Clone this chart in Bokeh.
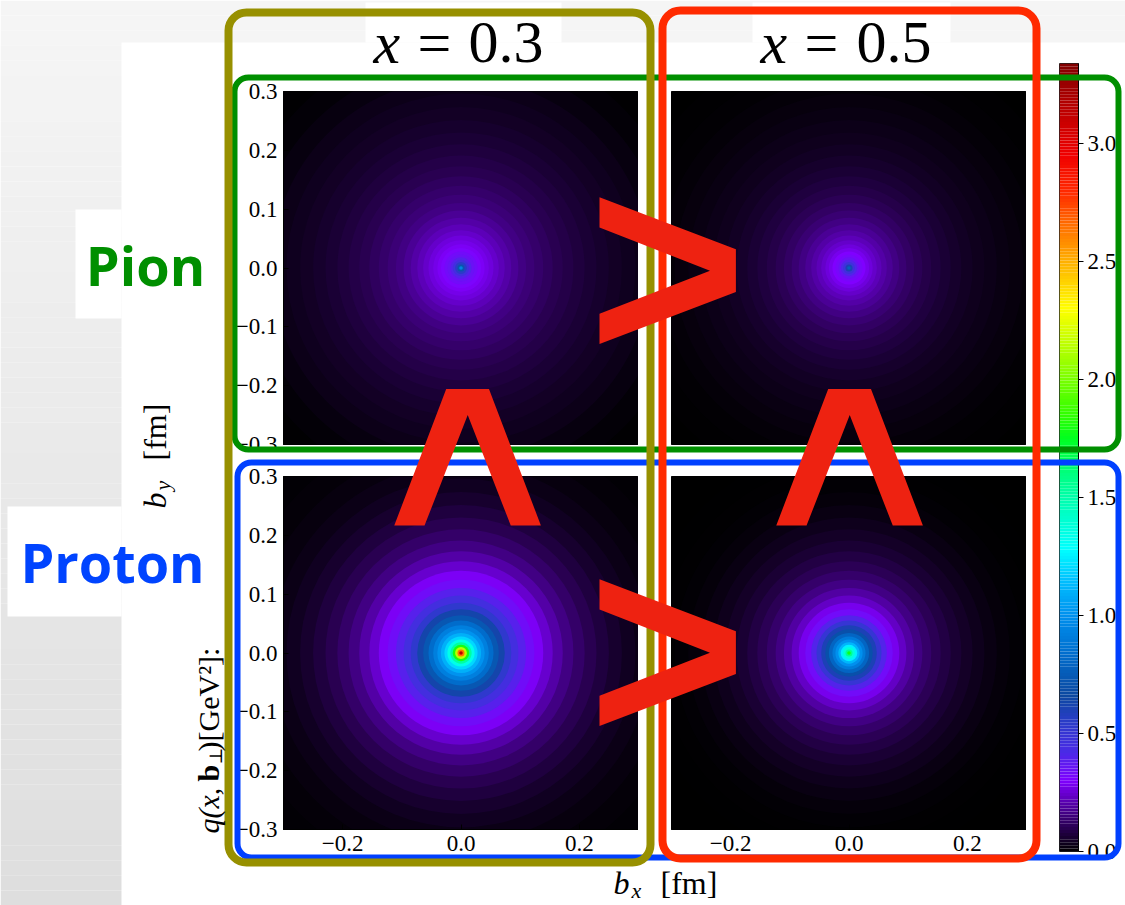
import numpy as np
from bokeh.plotting import figure
from bokeh.models import (Range1d, FixedTicker, CustomJSTickFormatter, BoxAnnotation,
                          ColumnDataSource)
from bokeh.core.properties import value
from bokeh.embed import file_html
from bokeh.resources import INLINE

# ---------------- data ----------------
# radial band edges b_perp [fm] and the density q(x, b_perp) [GeV^2] in each band
RADII = [0.003, 0.006, 0.010, 0.014, 0.018, 0.023, 0.028, 0.034, 0.040, 0.047,
         0.055, 0.064, 0.074, 0.085, 0.097, 0.110, 0.124, 0.139, 0.155, 0.172,
         0.190, 0.209, 0.229, 0.250, 0.272, 0.295, 0.320, 0.350, 0.385, 0.425]
PION_X03 = [0.95, 0.72, 0.55, 0.45, 0.39, 0.35, 0.33, 0.31, 0.29, 0.275,
            0.26, 0.24, 0.22, 0.20, 0.18, 0.16, 0.145, 0.13, 0.115, 0.10,
            0.088, 0.076, 0.065, 0.055, 0.046, 0.038, 0.030, 0.018, 0.008, 0.003]
PION_X05 = [0.78, 0.60, 0.47, 0.40, 0.35, 0.32, 0.30, 0.28, 0.26, 0.24,
            0.22, 0.20, 0.18, 0.16, 0.14, 0.122, 0.105, 0.09, 0.077, 0.065,
            0.054, 0.044, 0.036, 0.029, 0.022, 0.016, 0.010, 0.005, 0.002, 0.0]
PROTON_X03 = [3.15, 2.65, 2.15, 1.80, 1.52, 1.34, 1.20, 1.10, 1.01, 0.92,
              0.83, 0.73, 0.63, 0.53, 0.45, 0.39, 0.335, 0.29, 0.245, 0.20,
              0.16, 0.128, 0.10, 0.077, 0.057, 0.040, 0.027, 0.017, 0.010, 0.006]
PROTON_X05 = [1.78, 1.55, 1.38, 1.25, 1.12, 1.00, 0.90, 0.80, 0.70, 0.60,
              0.50, 0.40, 0.33, 0.28, 0.235, 0.195, 0.16, 0.13, 0.105, 0.083,
              0.064, 0.048, 0.034, 0.022, 0.012, 0.006, 0.003, 0.001, 0.0, 0.0]

X_VALUES = ["0.3", "0.5"]
HADRONS = ["Pion", "Proton"]
Y_TICKS = [-0.3, -0.2, -0.1, 0.0, 0.1, 0.2, 0.3]
X_TICKS = [-0.2, 0.0, 0.2]
CBAR_TICKS = [0.0, 0.5, 1.0, 1.5, 2.0, 2.5, 3.0]
CBAR_RANGE = [0.0, 3.34]
B_RANGE = [-0.3, 0.3]

# ---------------- colour map (style) ----------------
CMAP_STOPS = [(0.00, "#000000"), (0.15, "#3d007a"), (0.30, "#8000ff"), (0.42, "#4a2ae6"),
              (0.55, "#2a3cc8"), (0.66, "#0c48a0"), (0.85, "#0070d0"), (1.00, "#0090ee"),
              (1.15, "#00c0ff"), (1.28, "#00ffff"), (1.45, "#00ffc0"), (1.60, "#00ff80"),
              (1.75, "#00ff20"), (1.85, "#30ff00"), (2.05, "#90ff00"), (2.30, "#ffff00"),
              (2.50, "#ffb000"), (2.65, "#ff7000"), (2.80, "#ff2800"), (2.95, "#f00000"),
              (3.10, "#c80000"), (3.34, "#800000")]
_sv = np.array([s for s, _ in CMAP_STOPS])
_rgb = np.array([[int(c[i:i + 2], 16) for i in (1, 3, 5)] for _, c in CMAP_STOPS], float)


def to_color(v):
    r, g, b = (int(round(np.interp(v, _sv, _rgb[:, k]))) for k in range(3))
    return "#%02x%02x%02x" % (r, g, b)


SERIF = value("Liberation Serif")
FMT_CODE = "var s = Math.abs(tick).toFixed(1); return tick < -1e-9 ? '\u2212' + s : s;"

W, H = 1125, 905
PANEL_W, PANEL_H = 355, 353
COL_LEFT = [283, 671]
ROW_TOP = [91, 476]
PAD = 14


def place(fig, left, top):
    fig.styles = {"position": "absolute", "left": f"{left}px", "top": f"{top}px"}


def style_axis(ax, ticks, tick_in, tick_out, standoff):
    ax.ticker = FixedTicker(ticks=ticks)
    ax.formatter = CustomJSTickFormatter(code=FMT_CODE)
    ax.major_label_text_font = "Liberation Serif"
    ax.major_label_text_font_size = "23px"
    ax.major_label_text_color = "black"
    ax.major_tick_in = tick_in
    ax.major_tick_out = tick_out
    ax.major_tick_line_color = "black"
    ax.minor_tick_line_color = None
    ax.axis_line_color = "black"
    ax.major_label_standoff = standoff


def make_panel(vals, row, col):
    show_y = col == 0
    show_x = row == 1
    lb = 60 if show_y else 0
    bb = 40 if show_x else PAD
    p = figure(width=PANEL_W + lb, height=PANEL_H + PAD + bb,
               x_range=Range1d(*B_RANGE), y_range=Range1d(*B_RANGE),
               x_axis_location="below" if show_x else None,
               y_axis_location="left" if show_y else None,
               toolbar_location=None, output_backend="svg",
               min_border_left=lb, min_border_bottom=bb, min_border_top=PAD, min_border_right=0,
               background_fill_color="black", border_fill_color=None,
               outline_line_color="black")
    p.grid.visible = False
    order = list(np.argsort(RADII)[::-1])
    src = ColumnDataSource(dict(x=[0.0] * len(order), y=[0.0] * len(order),
                                r=[RADII[i] for i in order],
                                c=[to_color(vals[i]) for i in order]))
    p.circle(x="x", y="y", radius="r", fill_color="c", line_color=None, source=src)
    if show_y:
        style_axis(p.yaxis[0], Y_TICKS, 5, 0, 6)
    if show_x:
        style_axis(p.xaxis[0], X_TICKS, 5, 0, 6)
    place(p, COL_LEFT[col] - lb, ROW_TOP[row] - PAD)
    return p


def pixel_fig(bg):
    f = figure(width=W, height=H, x_range=Range1d(0, W), y_range=Range1d(H, 0),
               x_axis_location=None, y_axis_location=None, toolbar_location=None,
               output_backend="svg", min_border=0, outline_line_color=None,
               background_fill_color=bg, border_fill_color=bg)
    f.grid.visible = False
    place(f, 0, 0)
    return f


# ---------------- background ----------------
bg = pixel_fig("#ffffff")
nb = 60
edges = np.linspace(0, H, nb + 1)
g0, g1 = 0xf6, 0xde
bg.quad(left=0, right=W, top=edges[:-1], bottom=edges[1:],
        fill_color=["#%02x%02x%02x" % ((int(g0 + (g1 - g0) * (i + 0.5) / nb),) * 3) for i in range(nb)],
        line_color=None)
bg.quad(left=[121, 75, 7, 365, 752], right=[W, 121, 121, 561, 950],
        top=[42, 209, 506, 2, 2], bottom=[H, 318, 616, 42, 42],
        fill_color="white", line_color=None)

# ---------------- panels ----------------
panels = [make_panel(PION_X03, 0, 0), make_panel(PION_X05, 0, 1),
          make_panel(PROTON_X03, 1, 0), make_panel(PROTON_X05, 1, 1)]

# ---------------- colour bar ----------------
cb = figure(width=19 + 47, height=788 + 24, x_range=Range1d(0, 1), y_range=Range1d(*CBAR_RANGE),
            x_axis_location=None, y_axis_location="right", toolbar_location=None,
            output_backend="svg", min_border_left=0, min_border_right=47,
            min_border_top=10, min_border_bottom=14,
            background_fill_color=None, border_fill_color=None,
            outline_line_color="#222222", outline_line_width=1)
cb.grid.visible = False
lv = np.linspace(CBAR_RANGE[0], CBAR_RANGE[1], 257)
cb.quad(left=0, right=1, bottom=lv[:-1], top=lv[1:],
        fill_color=[to_color(0.5 * (a + b)) for a, b in zip(lv[:-1], lv[1:])], line_color=None)
style_axis(cb.yaxis[0], CBAR_TICKS, 0, 5, 4)
place(cb, 1059, 53)

# ---------------- overlay ----------------
ov = pixel_fig(None)
ov.background_fill_alpha = 0
ov.border_fill_alpha = 0

# hand-drawn style frames (drawn under the overlay texts)
for l, r, t, b, c, w, rad in [
        (234, 1118, 77, 449, "#008f00", 6, 14),
        (237, 1118, 462, 857, "#0040ff", 6, 14),
        (228, 650, 12, 862, "#979000", 8, 18),
        (662, 1036, 10, 858, "#ff2a00", 8, 18)]:
    ov.add_layout(BoxAnnotation(left=l, right=r, top=t, bottom=b, fill_color=None, fill_alpha=0,
                                line_color=c, line_alpha=1.0, line_width=w, border_radius=rad,
                                level="underlay"))

MID = "middle"
# column titles  x = 0.3 / x = 0.5
ov.text(x=[373, 760], y=[42, 42], text=["x", "x"], text_font=SERIF, text_font_style="italic",
        text_font_size=value("60px"), text_color="black", text_baseline=MID)
ov.text(x=[417, 804], y=[42, 42], text=["=", "="], text_font=SERIF,
        text_font_size=value("60px"), text_color="black", text_baseline=MID)
ov.text(x=[468, 856], y=[42, 42], text=X_VALUES, text_font=SERIF,
        text_font_size=value("60px"), text_color="black", text_baseline=MID)

# row labels
ov.text(x=[145, 112], y=[264, 561], text=HADRONS, text_align="center", text_baseline=MID,
        text_font=value("Open Sans"), text_font_style="bold", text_font_size=value("54px"),
        text_color=["#008f00", "#0044ff"])

# axis labels
ov.text(x=[613], y=[882], text=["b"], text_font=SERIF, text_font_style="italic",
        text_font_size=value("32px"), text_color="black", text_baseline=MID)
ov.text(x=[631], y=[890], text=["x"], text_font=SERIF, text_font_style="italic",
        text_font_size=value("22px"), text_color="black", text_baseline=MID)
ov.text(x=[660], y=[882], text=["[fm]"], text_font=SERIF,
        text_font_size=value("32px"), text_color="black", text_baseline=MID)
VA = np.pi / 2
ov.text(x=[154], y=[508], text=["b"], angle=VA, text_font=SERIF, text_font_style="italic",
        text_font_size=value("32px"), text_color="black", text_baseline=MID)
ov.text(x=[162], y=[490], text=["y"], angle=VA, text_font=SERIF, text_font_style="italic",
        text_font_size=value("22px"), text_color="black", text_baseline=MID)
ov.text(x=[154], y=[460], text=["[fm]"], angle=VA, text_font=SERIF,
        text_font_size=value("32px"), text_color="black", text_baseline=MID)
ov.text(x=[208], y=[833], text=["q(x, "], angle=VA, text_font=SERIF, text_font_style="italic",
        text_font_size=value("30px"), text_color="black", text_baseline=MID)
ov.text(x=[208], y=[781], text=["b"], angle=VA, text_font=SERIF, text_font_style="bold",
        text_font_size=value("30px"), text_color="black", text_baseline=MID)
ov.text(x=[215], y=[764], text=["\u22a5"], angle=VA, text_font=value("DejaVu Serif"),
        text_font_size=value("18px"), text_color="black", text_baseline=MID)
ov.text(x=[208], y=[751], text=[")[GeV\u00b2]:"], angle=VA, text_font=SERIF,
        text_font_size=value("30px"), text_color="black", text_baseline=MID)

# red comparison symbols: x = 0.3 > x = 0.5 (rows) and Proton > Pion (columns)
SYM_SIZE = value("272px")
ov.text(x=[667, 667], y=[266, 648], text=[">", ">"], angle=0.0,
        text_align="center", text_baseline=MID,
        text_font=value("Liberation Sans"), text_font_style="bold",
        text_font_size=SYM_SIZE, text_color="#ee2211")
ov.text(x=[463, 845], y=[457, 457], text=[">", ">"], angle=VA,
        text_align="center", text_baseline=MID,
        text_font=value("Liberation Sans"), text_font_style="bold",
        text_font_size=SYM_SIZE, text_color="#ee2211")

roots = [bg] + panels + [cb, ov]
open("out.html", "w").write(file_html(roots, INLINE, title="GPD densities"))
